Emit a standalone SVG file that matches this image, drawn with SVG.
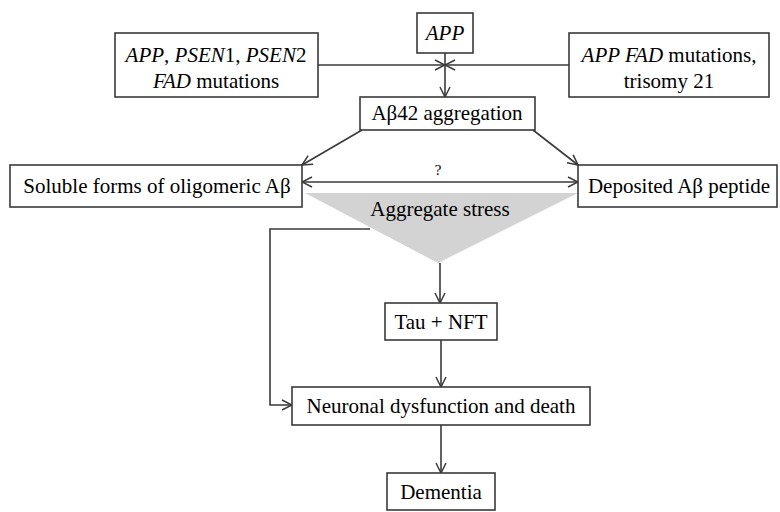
<svg xmlns="http://www.w3.org/2000/svg" width="780" height="512" viewBox="0 0 780 512">
<defs>
<marker id="ah" viewBox="0 0 12 12" refX="11" refY="6" markerWidth="12" markerHeight="12" markerUnits="userSpaceOnUse" orient="auto-start-reverse">
<path d="M1,1 L11,6 L1,11" fill="none" stroke="#3a3a3a" stroke-width="1.5"/>
</marker>
</defs>
<g id="stress">
<polygon points="305,193 578,193 438,263" fill="#d3d3d3"/>
<text x="440" y="216" font-family="Liberation Serif" font-size="21" text-anchor="middle">Aggregate stress</text>
</g>
<g id="connectors" fill="none" stroke="#3a3a3a" stroke-width="1.6">
<line x1="318" y1="65" x2="445" y2="65" marker-end="url(#ah)"/>
<line x1="569" y1="65" x2="445" y2="65" marker-end="url(#ah)"/>
<line x1="445" y1="53" x2="445" y2="97" marker-end="url(#ah)"/>
<line x1="362" y1="130" x2="302" y2="165" marker-end="url(#ah)"/>
<line x1="533" y1="130" x2="578" y2="165" marker-end="url(#ah)"/>
<line x1="302" y1="182" x2="578" y2="182" marker-start="url(#ah)" marker-end="url(#ah)"/>
<polyline points="370,229 270,229 270,405 292,405" marker-end="url(#ah)"/>
<line x1="440" y1="263" x2="440" y2="303" marker-end="url(#ah)"/>
<line x1="441" y1="340" x2="441" y2="387" marker-end="url(#ah)"/>
<line x1="441" y1="425" x2="441" y2="473" marker-end="url(#ah)"/>
</g>
<text x="438" y="175" font-family="Liberation Serif" font-size="15" text-anchor="middle">?</text>
<g id="app">
<rect x="417" y="13" width="56" height="40" fill="#fff" stroke="#3a3a3a" stroke-width="1.6"/>
<text x="445" y="40" font-family="Liberation Serif" font-size="21" text-anchor="middle" font-style="italic">APP</text>
</g>
<g id="left-mut">
<rect x="115" y="33" width="203" height="64" fill="#fff" stroke="#3a3a3a" stroke-width="1.6"/>
<text x="216" y="62" font-family="Liberation Serif" font-size="21" text-anchor="middle"><tspan font-style="italic">APP</tspan>, <tspan font-style="italic">PSEN</tspan>1, <tspan font-style="italic">PSEN</tspan>2</text>
<text x="216" y="88" font-family="Liberation Serif" font-size="21" text-anchor="middle"><tspan font-style="italic">FAD</tspan> mutations</text>
</g>
<g id="right-mut">
<rect x="569" y="33" width="200" height="64" fill="#fff" stroke="#3a3a3a" stroke-width="1.6"/>
<text x="669" y="62" font-family="Liberation Serif" font-size="21" text-anchor="middle"><tspan font-style="italic">APP FAD</tspan> mutations,</text>
<text x="669" y="88" font-family="Liberation Serif" font-size="21" text-anchor="middle">trisomy 21</text>
</g>
<g id="agg">
<rect x="360" y="97" width="175" height="33" fill="#fff" stroke="#3a3a3a" stroke-width="1.6"/>
<text x="447" y="120" font-family="Liberation Serif" font-size="21" text-anchor="middle">Aβ42 aggregation</text>
</g>
<g id="soluble">
<rect x="10" y="165" width="292" height="42" fill="#fff" stroke="#3a3a3a" stroke-width="1.6"/>
<text x="157" y="193" font-family="Liberation Serif" font-size="21" text-anchor="middle">Soluble forms of oligomeric Aβ</text>
</g>
<g id="deposited">
<rect x="578" y="165" width="199" height="42" fill="#fff" stroke="#3a3a3a" stroke-width="1.6"/>
<text x="679" y="193" font-family="Liberation Serif" font-size="21" text-anchor="middle">Deposited Aβ peptide</text>
</g>
<g id="tau">
<rect x="385" y="303" width="112" height="37" fill="#fff" stroke="#3a3a3a" stroke-width="1.6"/>
<text x="441" y="329" font-family="Liberation Serif" font-size="21" text-anchor="middle">Tau + NFT</text>
</g>
<g id="neuronal">
<rect x="292" y="387" width="298" height="38" fill="#fff" stroke="#3a3a3a" stroke-width="1.6"/>
<text x="441" y="413" font-family="Liberation Serif" font-size="21" text-anchor="middle">Neuronal dysfunction and death</text>
</g>
<g id="dementia">
<rect x="387" y="473" width="108" height="37" fill="#fff" stroke="#3a3a3a" stroke-width="1.6"/>
<text x="441" y="499" font-family="Liberation Serif" font-size="21" text-anchor="middle">Dementia</text>
</g>
</svg>
